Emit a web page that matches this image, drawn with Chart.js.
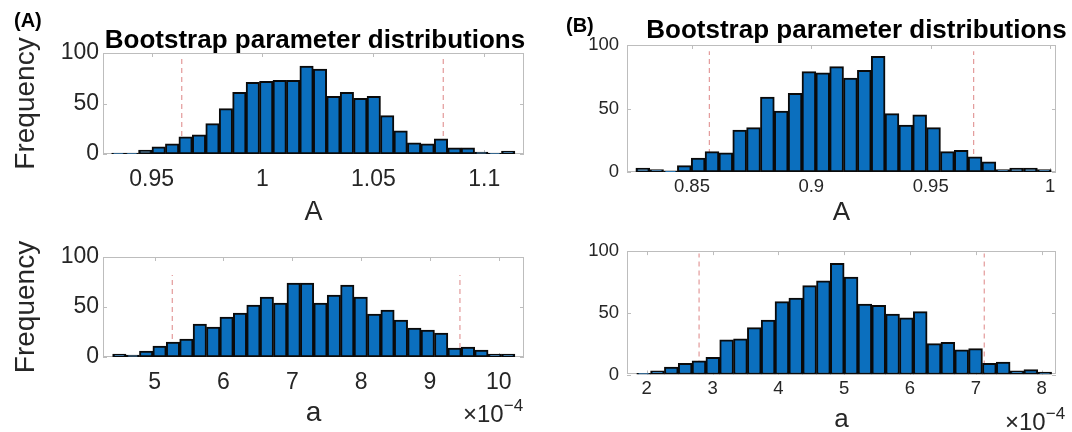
<!DOCTYPE html>
<html>
<head>
<meta charset="utf-8">
<script src="https://cdn.jsdelivr.net/npm/chart.js@4.4.1/dist/chart.umd.min.js"></script>
<style>
  body { margin: 0; width: 1072px; height: 432px; overflow: hidden; background: #fff; position: relative; font-family: "Liberation Sans", Arial, sans-serif; }
  canvas { position: absolute; }
  .panel { position: absolute; font-weight: bold; font-size: 20px; line-height: 1; color: #000; }
  .exp { position: absolute; font-size: 24px; line-height: 1; color: #262626; white-space: nowrap; }
  .exp span { font-size: 17px; position: relative; top: -11px; }
</style>
</head>
<body>
<canvas id="aTop" width="630" height="232" style="left:0;top:0"></canvas>
<canvas id="aBot" width="630" height="200" style="left:0;top:232px"></canvas>
<canvas id="bTop" width="543" height="232" style="left:585px;top:0"></canvas>
<canvas id="bBot" width="543" height="210" style="left:585px;top:232px"></canvas>
<div class="panel" style="left:14px;top:10px">(A)</div>
<div class="panel" style="left:566px;top:15px">(B)</div>
<div class="exp" style="left:463px;top:402px">×10<span>−4</span></div>
<div class="exp" style="left:1005px;top:410px">×10<span>−4</span></div>
<script>
// bootstrap histogram counts (30 bins each)
const aTopCounts = [1, 1, 4, 7, 10, 17, 19, 30, 45, 61, 71, 72, 73, 73, 87, 84, 57, 61, 55, 57, 38, 23, 11, 10, 15, 6, 6, 2, 1, 3];
const aBotCounts = [3, 2, 6, 11, 15, 18, 33, 30, 40, 44, 52, 60, 54, 74, 74, 54, 62, 72, 60, 43, 47, 37, 29, 27, 24, 9, 10, 7, 3, 3];
const bTopCounts = [3, 2, 1, 5, 11, 16, 15, 33, 35, 59, 48, 62, 79, 78, 83, 74, 80, 91, 46, 37, 45, 35, 16, 17, 12, 8, 2, 3, 3, 2];
const bBotCounts = [1, 3, 6, 9, 11, 14, 28, 29, 38, 44, 59, 62, 72, 76, 90, 79, 57, 56, 49, 46, 51, 25, 26, 20, 21, 9, 10, 3, 4, 2];

// first bin edge and bin width (a is in units of 1e-4)
const aTopBins = [0.932, 0.00606];
const aBotBins = [4.389, 0.1949];
const bTopBins = [0.8265, 0.0058];
const bBotBins = [1.848, 0.2101];

// dashed interval limits
const aTopCI = [0.9636, 1.0815];
const aBotCI = [5.256, 9.437];
const bTopCI = [0.8573, 0.968];
const bBotCI = [2.795, 7.128];
const ciHeights = { aTop: 98, aBot: 82, bTop: 95, bBot: 98 };

// axis limits and tick values
const aTopRange = [0.9281, 1.1179];
const aBotRange = [4.249, 10.368];
const bTopRange = [0.8228, 1.0025];
const bBotRange = [1.70, 8.218];
const aTopTicks = [0.95, 1, 1.05, 1.1];
const aBotTicks = [5, 6, 7, 8, 9, 10];
const bTopTicks = [0.85, 0.9, 0.95, 1];
const bBotTicks = [2, 3, 4, 5, 6, 7, 8];
const freqTicks = [0, 50, 100];

const titleText = 'Bootstrap parameter distributions';
const FONT = '"Liberation Sans", Arial, sans-serif';
Chart.defaults.font.family = FONT;

// light grey box round the axes with small inward ticks, like matlab
const axisBox = {
  id: 'axisBox',
  beforeDatasetsDraw(chart) {
    const { ctx, chartArea: a, scales: { x, y } } = chart;
    ctx.save();
    ctx.strokeStyle = '#bdbdbd';
    ctx.lineWidth = 1;
    ctx.strokeRect(Math.round(a.left) + 0.5, Math.round(a.top) + 0.5, Math.round(a.width) - 1, Math.round(a.height) - 1);
    ctx.beginPath();
    x.ticks.forEach(t => {
      const px = Math.round(x.getPixelForValue(t.value)) + 0.5;
      ctx.moveTo(px, a.top); ctx.lineTo(px, a.top + 4);
      ctx.moveTo(px, a.bottom); ctx.lineTo(px, a.bottom - 4);
    });
    y.ticks.forEach(t => {
      const py = Math.round(y.getPixelForValue(t.value)) + 0.5;
      ctx.moveTo(a.left, py); ctx.lineTo(a.left + 4, py);
      ctx.moveTo(a.right, py); ctx.lineTo(a.right - 4, py);
    });
    ctx.stroke();
    ctx.restore();
  }
};

function makeHist(id, o) {
  const bars = o.counts.map((c, i) => ({ x: o.bins[0] + (i + 0.5) * o.bins[1], y: c }));
  const ciSets = o.ci.map(v => ({
    type: 'line',
    data: [{ x: v, y: 0 }, { x: v, y: o.ciTop }],
    borderColor: '#e39a9a',
    borderWidth: 1.2,
    borderDash: [5, 4],
    pointRadius: 0,
    order: 2
  }));

  return new Chart(document.getElementById(id), {
    type: 'bar',
    data: {
      datasets: [{
        data: bars,
        backgroundColor: '#0b6fbe',
        borderColor: '#0a0a0a',
        borderWidth: 2,
        borderSkipped: false,
        barPercentage: 1,
        categoryPercentage: 1,
        order: 1
      }, ...ciSets]
    },
    options: {
      responsive: false,
      animation: false,
      layout: { padding: { top: o.padTop || 0 } },
      plugins: {
        legend: { display: false },
        tooltip: { enabled: false },
        title: o.title ? {
          display: true,
          text: titleText,
          color: '#000',
          font: { size: 26, weight: 'bold', lineHeight: 0.8 },
          padding: o.titlePad
        } : { display: false }
      },
      scales: {
        x: {
          type: 'linear',
          min: o.range[0],
          max: o.range[1],
          offset: false,
          grid: { display: false, drawTicks: false },
          border: { display: false },
          afterBuildTicks: s => { s.ticks = o.ticks.map(v => ({ value: v })); },
          afterFit: s => { s.height = o.xHeight; },
          ticks: {
            padding: o.xTickPad,
            color: '#262626',
            font: { size: o.tickSize },
            maxRotation: 0,
            autoSkip: false,
            callback: v => String(+v.toFixed(4))
          },
          title: {
            display: true,
            text: o.xLabel,
            color: '#262626',
            font: { size: o.labelSize },
            padding: { top: 0, bottom: o.xTitlePad }
          }
        },
        y: {
          min: 0,
          max: 100,
          grid: { display: false, drawTicks: false },
          border: { display: false },
          afterBuildTicks: s => { s.ticks = freqTicks.map(v => ({ value: v })); },
          afterFit: s => { s.width = o.yWidth; },
          ticks: { padding: o.yTickPad, color: '#262626', font: { size: o.tickSize } },
          title: {
            display: !!o.yLabel,
            text: o.yLabel || '',
            color: '#262626',
            font: { size: 28 },
            padding: { top: 9, bottom: 0 }
          }
        },
        y2: {
          position: 'right',
          grid: { display: false },
          border: { display: false },
          ticks: { display: false },
          afterFit: s => { s.width = o.rightWidth; }
        }
      }
    },
    plugins: [axisBox]
  });
}

makeHist('aTop', {
  counts: aTopCounts, bins: aTopBins, ci: aTopCI, ciTop: ciHeights.aTop,
  range: aTopRange, ticks: aTopTicks, xLabel: 'A', yLabel: 'Frequency',
  title: true, titlePad: { top: 30, bottom: 2.2 },
  tickSize: 23, labelSize: 27, xTickPad: 12, xTitlePad: 3, xHeight: 78,
  yWidth: 103, yTickPad: 4, rightWidth: 106
});

makeHist('aBot', {
  counts: aBotCounts, bins: aBotBins, ci: aBotCI, ciTop: ciHeights.aBot,
  range: aBotRange, ticks: aBotTicks, xLabel: 'a', yLabel: 'Frequency',
  padTop: 25,
  tickSize: 23, labelSize: 28, xTickPad: 12, xTitlePad: 2, xHeight: 75,
  yWidth: 103, yTickPad: 4, rightWidth: 106
});

makeHist('bTop', {
  counts: bTopCounts, bins: bTopBins, ci: bTopCI, ciTop: ciHeights.bTop,
  range: bTopRange, ticks: bTopTicks, xLabel: 'A',
  title: true, titlePad: { top: 20.6, bottom: 3.6 },
  tickSize: 18.5, labelSize: 26, xTickPad: 4, xTitlePad: 3.4, xHeight: 60,
  yWidth: 42, yTickPad: 8, rightWidth: 72
});

makeHist('bBot', {
  counts: bBotCounts, bins: bBotBins, ci: bBotCI, ciTop: ciHeights.bBot,
  range: bBotRange, ticks: bBotTicks, xLabel: 'a',
  padTop: 15.5,
  tickSize: 18.5, labelSize: 26, xTickPad: 3, xTitlePad: 7, xHeight: 67.5,
  yWidth: 42, yTickPad: 8, rightWidth: 72
});
</script>
</body>
</html>
